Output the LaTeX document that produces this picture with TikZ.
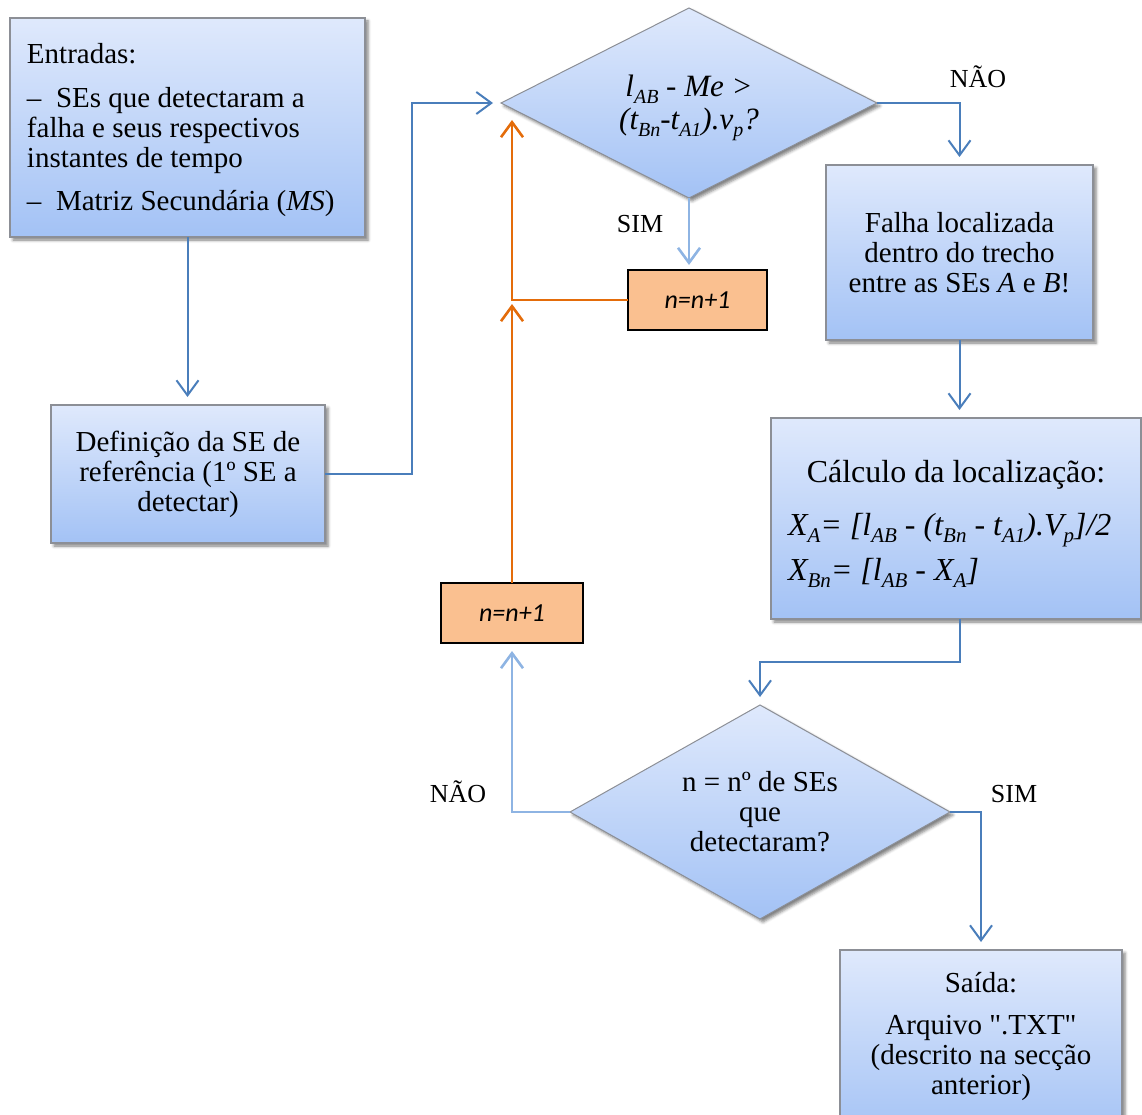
\documentclass[tikz,border=0pt]{standalone}
\usepackage{fontspec}
\setmainfont{Liberation Serif}
\newfontfamily\plainquotes{Liberation Serif}[Ligatures=TeXOff]
\newfontfamily\calibrifont{Carlito}
\usetikzlibrary{shapes.geometric,arrows.meta,shadows.blur}

\definecolor{lineblue}{HTML}{4A7EBB}
\definecolor{linelight}{HTML}{8EB4E3}
\definecolor{lineorange}{HTML}{E46C0A}
\definecolor{shadetop}{HTML}{DFE9FC}
\definecolor{shadebottom}{HTML}{A3C2F5}
\definecolor{edgegray}{HTML}{8C8F96}
\definecolor{counterfill}{HTML}{FAC090}

% lowered, reduced-size subscript in the current text font
\newcommand\subtxt[2][19]{\raisebox{-0.22em}{\fontsize{#1}{#1}\selectfont #2}}

\begin{document}
\begin{tikzpicture}[x=1pt,y=-1pt,
  softshadow/.style={blur shadow={shadow xshift=3pt,shadow yshift=-3pt,shadow blur radius=3pt,shadow opacity=50}},
  bluebox/.style={rectangle,draw=edgegray,line width=1.1pt,top color=shadetop,bottom color=shadebottom,
    softshadow,inner sep=0pt,outer sep=0pt,align=center,font=\fontsize{29}{30}\selectfont},
  decision/.style={diamond,aspect=2,draw=edgegray,line width=1pt,top color=shadetop,bottom color=shadebottom,
    softshadow,inner sep=0pt,outer sep=0pt,align=center},
  counter/.style={rectangle,draw=black,line width=1.6pt,fill=counterfill,inner sep=0pt,outer sep=0pt,
    minimum height=60pt,font=\calibrifont\itshape\fontsize{26}{28}\selectfont},
  flow/.style={draw=lineblue,line width=2pt,shorten >=8pt,
    -{Straight Barb[length=15pt,width=22pt,line width=2pt]}},
  flowlight/.style={draw=linelight,line width=2.6pt,shorten >=8pt,
    -{Straight Barb[length=15pt,width=22pt,line width=2.6pt]}},
  loop/.style={draw=lineorange,line width=2.6pt,
    -{Straight Barb[length=15pt,width=22pt,line width=2.6pt]}},
  tag/.style={font=\fontsize{26}{28}\selectfont,inner sep=0pt}
]
\clip (0,0) rectangle (1142,1115);

% inputs
\node[bluebox,minimum width=355pt,minimum height=219pt,text height=20pt,text depth=147pt] (in) at (187.5,127.5)
  {\parbox[t]{321pt}{\raggedright
   Entradas:\\[14pt]
   \makebox[29pt][l]{–}SEs que detectaram a\\
   falha e seus respectivos\\
   instantes de tempo\\[13pt]
   \makebox[29pt][l]{–}Matriz Secundária (\textit{MS})}};

% reference substation
\node[bluebox,minimum width=274pt,minimum height=138pt] (ref) at (188,474)
  {Definição da SE de\\referência (1º SE a\\detectar)};

% first test
\node[decision,minimum width=376pt,minimum height=190pt,font=\itshape\fontsize{31}{33}\selectfont,
      text height=21pt,text depth=33pt] (d1) at (689,103)
  {\parbox[t]{150pt}{\centering l\subtxt[20]{AB} - Me >\\(t\subtxt[20]{Bn}-t\subtxt[20]{A1}).v\subtxt[20]{p}?}};

% counters
\node[counter,minimum width=139pt] (inc1) at (697.5,300) {n=n+1};
\node[counter,minimum width=142pt] (inc2) at (512,613) {n=n+1};

% fault found
\node[bluebox,minimum width=267pt,minimum height=175pt] (falha) at (959.5,252.5)
  {Falha localizada\\dentro do trecho\\entre as SEs \textit{A} e \textit{B}!};

% location formulas
\node[bluebox,minimum width=370pt,minimum height=201pt,font=\fontsize{32}{36}\selectfont,
      text height=22pt,text depth=95pt] (calc) at (956,518.5)
  {\parbox[t]{336pt}{\centering Cálculo da localização:\par\vspace{17pt}\raggedright\itshape
   X\subtxt[21]{A}= [l\subtxt[21]{AB} - (t\subtxt[21]{Bn} - t\subtxt[21]{A1}).V\subtxt[21]{p}]/2\par\vspace{9pt}
   X\subtxt[21]{Bn}= [l\subtxt[21]{AB} - X\subtxt[21]{A}]}};

% second test
\node[decision,minimum width=380pt,minimum height=214pt,font=\fontsize{29}{30}\selectfont] (d2) at (760,812)
  {n = nº de SEs\\que\\detectaram?};

% output
\node[bluebox,minimum width=282pt,minimum height=190pt,text height=20pt,text depth=126pt] (out) at (981,1045)
  {\parbox[t]{270pt}{\centering Saída:\par\vspace{12pt}Arquivo {\plainquotes".TXT"}\\(descrito na secção\\anterior)}};

% branch labels
\node[tag] (no1) at (978,77) {NÃO};
\node[tag] (yes1) at (640,224) {SIM};
\node[tag] (no2) at (458,792) {NÃO};
\node[tag] (yes2) at (1014,794) {SIM};

% connectors
\draw[flow] (in.south) -- (in.south |- ref.north);
\draw[flow] (ref.east) -| ([xshift=-89pt]d1.west) -- (d1.west);
\draw[flow] (d1.east) -| (falha.north);
\draw[flow] (falha.south) -- (falha.south |- calc.north);
\draw[flow] (calc.south -| falha.south) -- ++(0,43) -| (d2.north);
\draw[flow] (d2.east) -| (out.north);
\draw[flowlight,shorten >=5pt] (d1.south) -- (d1.south |- inc1.north);
\draw[flowlight] (d2.west) -| (inc2.south);

\coordinate (join) at (inc2.north |- inc1.west);
\draw[loop,shorten >=4pt] (inc2.north) -- (join);
\draw[loop,shorten >=17pt] (inc1.west) -| (d1.west -| join);
\end{tikzpicture}
\end{document}
